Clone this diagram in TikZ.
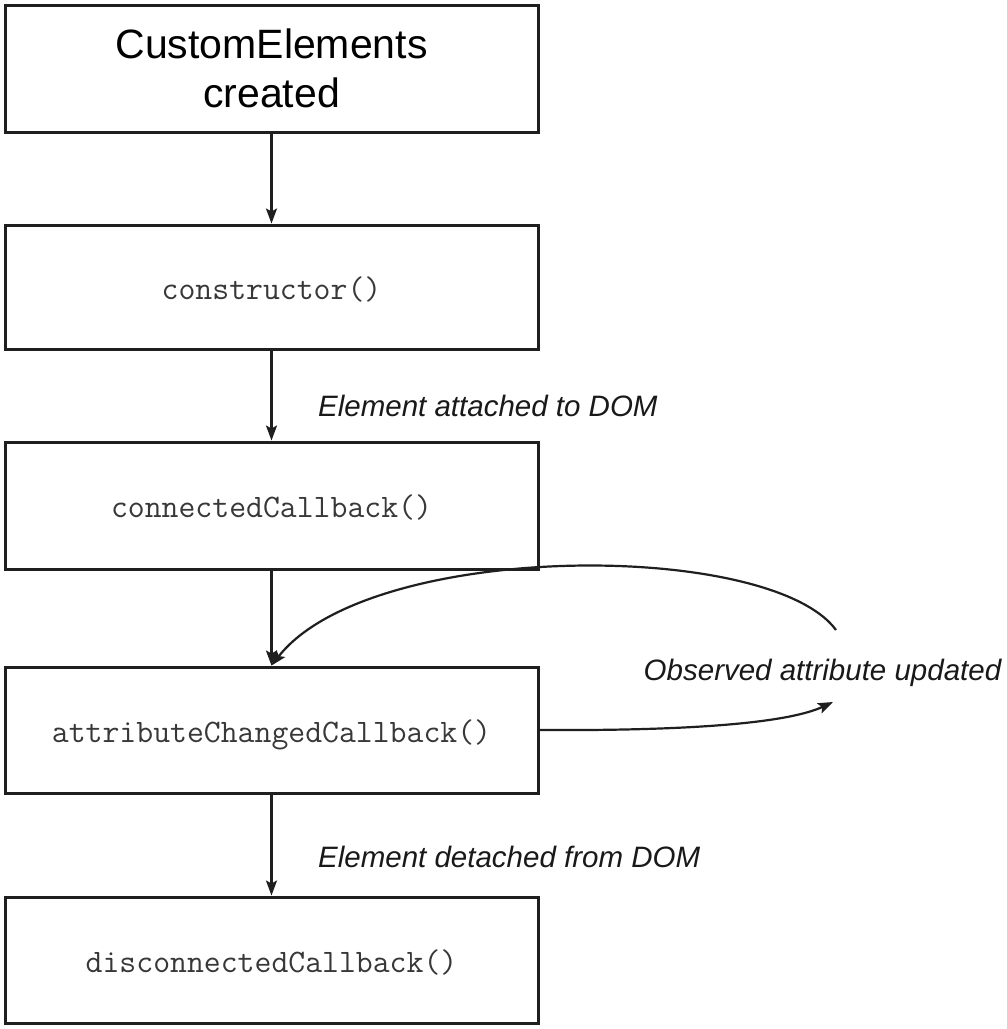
\documentclass[tikz,border=0pt]{standalone}
\usepackage{fontspec}
\setmainfont{Liberation Sans}
\usetikzlibrary{arrows.meta}
\begin{document}
\begin{tikzpicture}[x=1pt,y=-1pt,
  box/.style={draw=black!88, line width=3pt, minimum width=533pt, inner sep=0pt, anchor=center},
  code/.style={font=\ttfamily\fontsize{32.8}{38}\selectfont, text=black!78, text height=24pt, text depth=0pt},
  conn/.style={draw=black!88, line width=2.2pt, -{Stealth[length=15pt,width=11pt,inset=3pt]}},
  lab/.style={font=\itshape\fontsize{29.5}{35}\selectfont, text=black!90, inner sep=0pt}]
\useasboundingbox[fill=white] (0,0) rectangle (1007,1029);
\node[box, minimum height=127pt, align=center, font=\fontsize{41}{49}\selectfont] (created) at (271.5,68.5) {CustomElements\\created};
\node[box, code, minimum height=124pt] (ctor) at (271.5,287) {constructor()};
\node[box, code, minimum height=127pt] (conn) at (271.5,505.5) {connectedCallback()};
\node[box, code, minimum height=126pt] (attr) at (271.5,730) {attributeChangedCallback()};
\node[box, code, minimum height=126pt] (disc) at (271.5,960) {disconnectedCallback()};
\draw[conn] (created) -- (ctor);
\draw[conn] (ctor) -- (conn);
\draw[conn] (conn) -- (attr);
\draw[conn] (attr) -- (disc);
\coordinate (lowend) at (833,702);
\coordinate (upstart) at (836,630);
\draw[conn] (attr.east) .. controls (700,731) and (790,722) .. (lowend);
\draw[conn] (upstart) .. controls (770,540) and (370,540) .. (attr.north);
\node[lab, anchor=base west] (attached) at (318,416) {Element attached to DOM};
\node[lab, anchor=base west] (detached) at (318,867) {Element detached from DOM};
\node[lab, anchor=base] (observed) at (822.5,680) {Observed attribute updated};
\end{tikzpicture}
\end{document}
